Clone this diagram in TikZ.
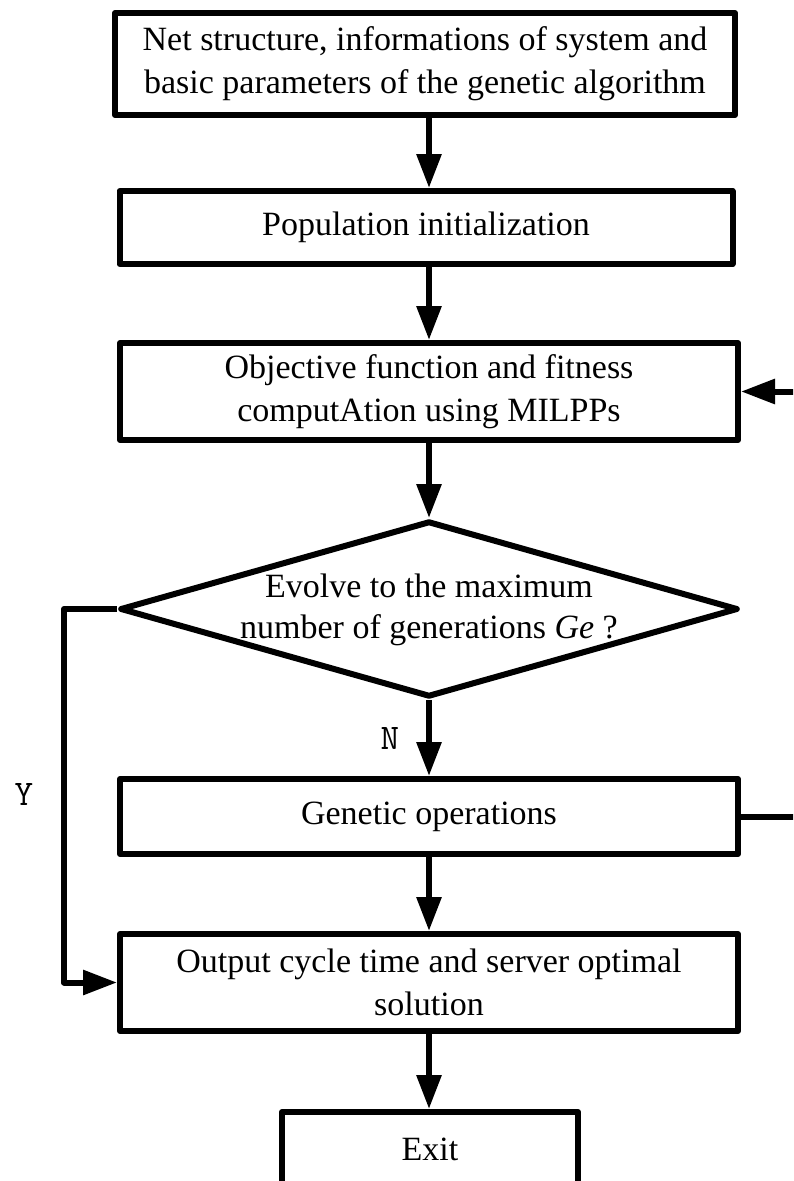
\documentclass[tikz,border=0pt]{standalone}
\usepackage{fontspec}
\setmainfont{Liberation Serif}
\usetikzlibrary{shapes.geometric,arrows.meta}
\begin{document}
\begin{tikzpicture}[x=1pt,y=-1pt,
  box/.style={draw, line width=6pt, line join=round, rectangle, inner sep=0pt, align=center, font=\fontsize{34}{43}\selectfont},
  txt/.style={align=center, inner sep=0pt, font=\fontsize{34}{41}\selectfont},
  lab/.style={inner sep=0pt, font=\ttfamily\fontsize{36}{36}\selectfont},
  arr/.style={line width=6pt, line join=round, -{Triangle[length=34pt,width=24pt]}}]
\useasboundingbox (0,0) rectangle (793,1181);
\clip (0,0) rectangle (793,1181);
\node[box, minimum width=620pt, minimum height=102pt] (b1) at (425,64) {Net structure, informations of system and\\basic parameters of the genetic algorithm};
\node[box, minimum width=613pt, minimum height=73pt] (b2) at (426,227.5) {Population initialization};
\node[box, minimum width=618pt, minimum height=97pt] (b3) at (429,391.5) {Objective function and fitness\\computAtion using MILPPs};
\node[draw, diamond, line width=6pt, line join=round, minimum width=618pt, minimum height=176pt, inner sep=0pt] (d) at (429,609) {};
\node[txt] (dt) at (429,610) {Evolve to the maximum\\number of generations \textit{Ge} ?};
\node[box, minimum width=618pt, minimum height=75pt] (b4) at (429,816.5) {Genetic operations};
\node[box, minimum width=618pt, minimum height=97pt] (b5) at (429,982.5) {Output cycle time and server optimal\\solution};
\node[draw, line width=6pt, line join=round, minimum width=296pt, anchor=north, inner sep=0pt, text height=48pt, text depth=100pt, font=\fontsize{34}{34}\selectfont] (exit) at (430,1109) {Exit};
\node[lab] (nl) at (390,738) {N};
\node[lab] (yl) at (24,794) {Y};
\coordinate (yc) at (64,609);
\coordinate (fb) at (830,0);
\draw[arr] (b1.south -| d.north) -- (b2.north -| d.north);
\draw[arr] (b2.south -| d.north) -- (b3.north -| d.north);
\draw[arr] (b3.south -| d.north) -- (d.north);
\draw[arr] (d.south) -- (b4.north -| d.south);
\draw[arr] (b4.south -| d.south) -- (b5.north -| d.south);
\draw[arr] (b5.south -| d.south) -- (exit.north -| d.south);
\draw[arr] (d.west) -- (yc) |- (b5.west);
\draw[arr] (b4.east) -- (b4.east -| fb) |- (b3.east);
\end{tikzpicture}
\end{document}
